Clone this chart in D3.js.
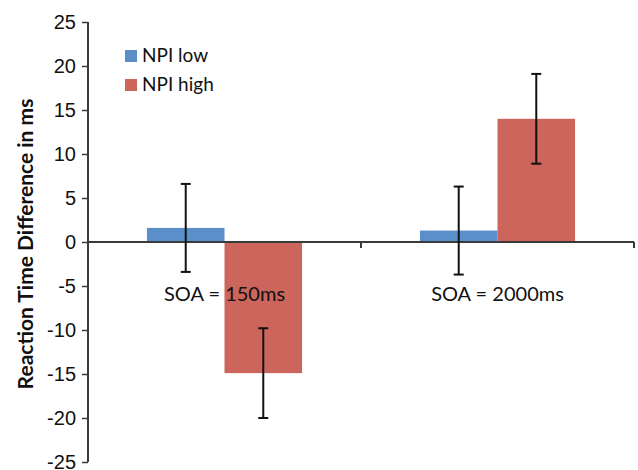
<!DOCTYPE html>
<html>
<head>
<meta charset="utf-8">
<script src="https://cdn.jsdelivr.net/npm/d3@7"></script>
<style>
  body { margin: 0; background: #fff; }
  svg { font-family: Lato, "Open Sans", sans-serif; }
</style>
</head>
<body>
<script>
const w = 638;
const h = 470;

// data
const categories = ["SOA = 150ms", "SOA = 2000ms"];
const series = ["NPI low", "NPI high"];
const npiLow = [1.6, 1.3];
const npiHigh = [-14.9, 14.0];
const errLow = [5.0, 5.0];
const errHigh = [5.1, 5.1];
const yTicks = [-25, -20, -15, -10, -5, 0, 5, 10, 15, 20, 25];

const colors = { "NPI low": "#5a8fc9", "NPI high": "#cc655b" };
const axisColor = "#3a3a3a";

const rows = [];
categories.forEach((c, i) => {
  rows.push({ cat: c, s: "NPI low", v: npiLow[i], e: errLow[i] });
  rows.push({ cat: c, s: "NPI high", v: npiHigh[i], e: errHigh[i] });
});

const plotLeft = 88, plotRight = 634, plotTop = 22, plotBottom = 462;

const svg = d3.select("body").append("svg").attr("width", w).attr("height", h);

// scales
const x0 = d3.scaleBand().domain(categories).range([plotLeft, plotRight]);
const x1 = d3.scaleBand().domain(series).range([0, x0.bandwidth()]).paddingOuter(0.76);
const y = d3.scaleLinear().domain([-25, 25]).range([plotBottom, plotTop]);

//bars
svg
  .selectAll("rect.bar")
  .data(rows)
  .enter()
  .append("rect")
  .attr("class", "bar")
  .attr("x", (d) => x0(d.cat) + x1(d.s))
  .attr("width", x1.bandwidth())
  .attr("y", (d) => y(Math.max(0, d.v)))
  .attr("height", (d) => Math.abs(y(d.v) - y(0)))
  .style("fill", (d) => colors[d.s]);

// y axis
const yAxis = d3.axisLeft(y).tickValues(yTicks).tickSize(6).tickPadding(6).tickFormat(d3.format("d"));
const gy = svg
  .append("g")
  .attr("transform", "translate(" + plotLeft + ",0)")
  .call(yAxis);
gy.select(".domain").attr("stroke", axisColor).attr("stroke-width", 2).attr("d", "M0," + plotTop + "V" + plotBottom);
gy.selectAll(".tick line").attr("stroke", axisColor).attr("stroke-width", 1.5);
gy.selectAll(".tick text")
  .style("font-size", "20px")
  .style("fill", "#111")
  .text((d) => (d < 0 ? "-" + Math.abs(d) : d));

// x axis at zero
svg
  .append("line")
  .attr("x1", plotLeft)
  .attr("x2", plotRight)
  .attr("y1", y(0))
  .attr("y2", y(0))
  .attr("stroke", axisColor)
  .attr("stroke-width", 2);

const bounds = categories.map((c) => x0(c)).concat([plotRight]);
svg
  .selectAll("line.xtick")
  .data(bounds.slice(1))
  .enter()
  .append("line")
  .attr("class", "xtick")
  .attr("x1", (d) => d)
  .attr("x2", (d) => d)
  .attr("y1", y(0))
  .attr("y2", y(0) + 6)
  .attr("stroke", axisColor)
  .attr("stroke-width", 2);

// error bars
const err = svg.selectAll("g.err").data(rows).enter().append("g").attr("class", "err");
const cx = (d) => x0(d.cat) + x1(d.s) + x1.bandwidth() / 2;
err
  .append("line")
  .attr("x1", cx)
  .attr("x2", cx)
  .attr("y1", (d) => y(d.v + d.e))
  .attr("y2", (d) => y(d.v - d.e))
  .attr("stroke", "#111")
  .attr("stroke-width", 2);
[1, -1].forEach((sgn) => {
  err
    .append("line")
    .attr("x1", (d) => cx(d) - 5)
    .attr("x2", (d) => cx(d) + 5)
    .attr("y1", (d) => y(d.v + sgn * d.e))
    .attr("y2", (d) => y(d.v + sgn * d.e))
    .attr("stroke", "#111")
    .attr("stroke-width", 2);
});

// category labels
svg
  .selectAll("text.cat")
  .data(categories)
  .enter()
  .append("text")
  .attr("class", "cat")
  .attr("x", (d) => x0(d) + x0.bandwidth() / 2)
  .attr("y", 301)
  .attr("text-anchor", "middle")
  .style("font-size", "20px")
  .style("fill", "#111")
  .text((d) => d);

// y title
svg
  .append("text")
  .attr("transform", "translate(33," + (plotTop + plotBottom + 4) / 2 + ") rotate(-90)")
  .attr("text-anchor", "middle")
  .style("font-size", "21px")
  .style("font-weight", "bold")
  .style("fill", "#111")
  .text("Reaction Time Difference in ms");

//legend
const legend = svg
  .selectAll("g.legend")
  .data(series)
  .enter()
  .append("g")
  .attr("class", "legend")
  .attr("transform", (d, i) => "translate(125," + (50 + i * 29) + ")");
legend
  .append("rect")
  .attr("width", 12)
  .attr("height", 12)
  .style("fill", (d) => colors[d]);
legend
  .append("text")
  .attr("x", 17)
  .attr("y", 12)
  .style("font-size", "19px")
  .style("fill", "#111")
  .text((d) => d);
</script>
</body>
</html>
